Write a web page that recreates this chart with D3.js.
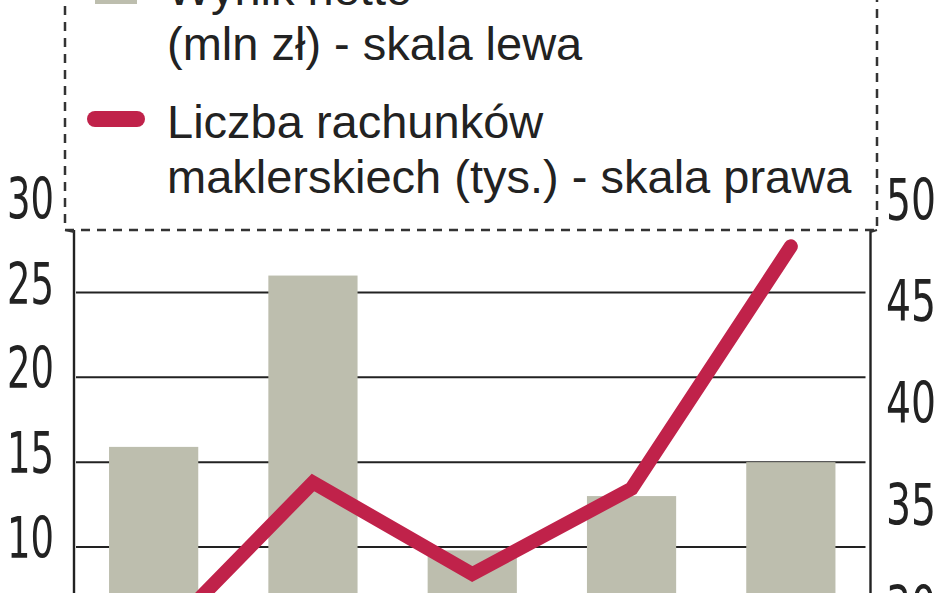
<!DOCTYPE html>
<html>
<head>
<meta charset="utf-8">
<script src="https://cdn.jsdelivr.net/npm/d3@7"></script>
<style>
  html, body { margin: 0; padding: 0; background: #fff; overflow: hidden; }
  svg { display: block; }
</style>
</head>
<body>
<div id="chart"></div>
<script>
// dane
const periods = ['p1', 'p2', 'p3', 'p4', 'p5']
const netProfit = [15.9, 26, 9.8, 13, 15]          // mln zł, skala lewa
const accounts = [28.5, 36.5, 32, 36.2, 48.1]      // tys., skala prawa
const leftTicks = [5, 10, 15, 20, 25, 30]
const rightTicks = [30, 35, 40, 45, 50]
const legendBar = ['Wynik netto', '(mln zł) - skala lewa']
const legendLine = ['Liczba rachunków', 'maklerskiech (tys.) - skala prawa']

const width = 948
const height = 593
const plotLeft = 74
const plotRight = 870.5
const plotTop = 207.7
const plotBottom = 716.6

const barColor = '#bdbeae'
const lineColor = '#c0224a'
const ink = '#222'

const svg = d3.select('#chart')
  .append('svg')
  .attr('width', width)
  .attr('height', height)

const x = d3.scaleBand()
  .domain(periods)
  .range([plotLeft, plotRight])
  .paddingInner(0.44)
  .paddingOuter(0.22)

const yLeft = d3.scaleLinear().domain([0, 30]).range([plotBottom, plotTop])
const yRight = d3.scaleLinear().domain([25, 50]).range([plotBottom, plotTop])

// linie siatki
svg.append('g')
  .selectAll('line')
  .data(leftTicks.filter(d => d < 30))
  .enter()
  .append('line')
  .attr('x1', plotLeft + 2)
  .attr('x2', plotRight - 5)
  .attr('y1', d => yLeft(d))
  .attr('y2', d => yLeft(d))
  .attr('stroke', ink)
  .attr('stroke-width', 2)

// słupki
svg.append('g')
  .selectAll('rect')
  .data(netProfit)
  .enter()
  .append('rect')
  .attr('x', (d, i) => x(periods[i]))
  .attr('width', x.bandwidth())
  .attr('y', d => yLeft(d))
  .attr('height', d => yLeft(0) - yLeft(d))
  .attr('fill', barColor)

// osie pionowe
svg.append('line')
  .attr('x1', plotLeft).attr('x2', plotLeft)
  .attr('y1', 230).attr('y2', plotBottom)
  .attr('stroke', ink).attr('stroke-width', 2.4)
svg.append('line')
  .attr('x1', plotRight).attr('x2', plotRight)
  .attr('y1', 230).attr('y2', plotBottom)
  .attr('stroke', ink).attr('stroke-width', 2.4)

// linia
const line = d3.line()
  .x((d, i) => x(periods[i]) + x.bandwidth() / 2)
  .y(d => yRight(d))

svg.append('path')
  .datum(accounts)
  .attr('d', line)
  .attr('fill', 'none')
  .attr('stroke', lineColor)
  .attr('stroke-width', 14)
  .attr('stroke-linejoin', 'miter')
  .attr('stroke-linecap', 'round')

// etykiety osi - wąskie cyfry
const tickFont = '"DejaVu Sans Condensed", "DejaVu Sans", sans-serif'

const axisL = svg.append('g')
  .attr('transform', 'translate(54,0)')
  .call(d3.axisLeft(yLeft).tickValues(leftTicks).tickSize(0).tickPadding(0))
axisL.select('.domain').remove()
axisL.selectAll('text')
  .attr('dy', 10.5)
  .attr('font-family', tickFont)
  .attr('font-size', 57)
  .attr('fill', ink)
  .attr('textLength', 47)
  .attr('lengthAdjust', 'spacingAndGlyphs')

const axisR = svg.append('g')
  .attr('transform', 'translate(886,0)')
  .call(d3.axisRight(yRight).tickValues(rightTicks).tickSize(0).tickPadding(0))
axisR.select('.domain').remove()
axisR.selectAll('text')
  .attr('dy', 11.5)
  .attr('font-family', tickFont)
  .attr('font-size', 57)
  .attr('fill', ink)
  .attr('textLength', 50)
  .attr('lengthAdjust', 'spacingAndGlyphs')

// ramka legendy
const dash = '9,7'
svg.append('path')
  .attr('d', 'M65,-10 L65,230 L877,230 L877,-10')
  .attr('fill', 'none')
  .attr('stroke', '#333')
  .attr('stroke-width', 2.5)
  .attr('stroke-dasharray', dash)
svg.append('path')
  .attr('d', `M65,230 L${plotLeft},232 M877,230 L${plotRight},232`)
  .attr('fill', 'none')
  .attr('stroke', '#333')
  .attr('stroke-width', 2)

// legenda
const legendFont = '"Liberation Sans", Arial, sans-serif'
const legend = svg.append('g')
  .attr('font-family', legendFont)
  .attr('font-size', 47)
  .attr('fill', ink)

legend.append('rect')
  .attr('x', 95).attr('y', -36)
  .attr('width', 42).attr('height', 40)
  .attr('fill', barColor)

legend.selectAll('text.bar')
  .data(legendBar)
  .enter()
  .append('text')
  .attr('class', 'bar')
  .attr('x', 167)
  .attr('y', (d, i) => 5 + i * 55)
  .text(d => d)

legend.append('line')
  .attr('x1', 95).attr('x2', 137)
  .attr('y1', 119).attr('y2', 119)
  .attr('stroke', lineColor)
  .attr('stroke-width', 16)
  .attr('stroke-linecap', 'round')

legend.selectAll('text.line')
  .data(legendLine)
  .enter()
  .append('text')
  .attr('class', 'line')
  .attr('x', 167)
  .attr('y', (d, i) => 138 + i * 55)
  .text(d => d)
</script>
</body>
</html>
